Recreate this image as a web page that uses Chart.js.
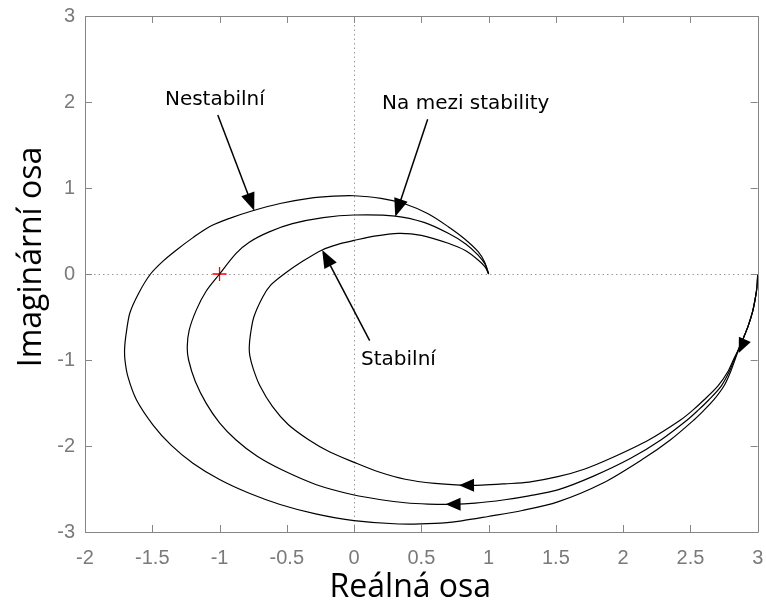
<!DOCTYPE html>
<html>
<head>
<meta charset="utf-8">
<script src="https://cdn.jsdelivr.net/npm/chart.js@4.4.1/dist/chart.umd.min.js"></script>
<style>
  html, body { margin: 0; padding: 0; background: #fff; }
  #wrap { width: 766px; height: 603px; }
</style>
</head>
<body>
<div id="wrap"><canvas id="nyquist"></canvas></div>
<script>
// Nyquistovy křivky, od w=0 (3,0) do w->inf (1,0)
const nestabilniX = [3, 2.995, 2.98, 2.96, 2.93, 2.895, 2.86, 2.835, 2.80, 2.75, 2.673, 2.60, 2.525, 2.35, 2.155, 1.85, 1.514, 1.25, 0.996, 0.80, 0.60, 0.33, 0, -0.286, -0.55, -0.779, -1.0, -1.198, -1.36, -1.494, -1.617, -1.68, -1.703, -1.705, -1.69, -1.666, -1.60, -1.513, -1.42, -1.32, -1.20, -1.075, -0.92, -0.754, -0.55, -0.335, -0.15, 0, 0.2, 0.38, 0.55, 0.70, 0.82, 0.922, 0.97, 1];
const nestabilniY = [0, -0.15, -0.3, -0.45, -0.6, -0.74, -0.87, -0.98, -1.13, -1.3, -1.465, -1.585, -1.698, -1.93, -2.143, -2.43, -2.65, -2.75, -2.82, -2.87, -2.90, -2.907, -2.868, -2.79, -2.68, -2.55, -2.39, -2.2, -1.99, -1.756, -1.465, -1.2, -1.0, -0.85, -0.65, -0.45, -0.22, 0, 0.15, 0.28, 0.42, 0.55, 0.65, 0.736, 0.82, 0.88, 0.905, 0.91, 0.88, 0.814, 0.70, 0.55, 0.41, 0.26, 0.14, 0];

const mezX = [3, 2.995, 2.98, 2.96, 2.93, 2.895, 2.86, 2.83, 2.79, 2.73, 2.636, 2.56, 2.476, 2.28, 2.056, 1.78, 1.514, 1.30, 1.12, 0.90, 0.725, 0.55, 0.38, 0.2, 0, -0.28, -0.533, -0.72, -0.877, -1.0, -1.099, -1.18, -1.23, -1.24, -1.225, -1.173, -1.10, -1.0, -0.877, -0.779, -0.631, -0.458, -0.23, 0, 0.306, 0.52, 0.70, 0.83, 0.922, 0.975, 1];
const mezY = [0, -0.15, -0.3, -0.45, -0.6, -0.74, -0.87, -0.98, -1.13, -1.3, -1.465, -1.58, -1.698, -1.93, -2.143, -2.35, -2.51, -2.58, -2.625, -2.665, -2.678, -2.675, -2.66, -2.625, -2.57, -2.45, -2.28, -2.12, -1.93, -1.73, -1.504, -1.25, -1.0, -0.845, -0.65, -0.42, -0.2, 0, 0.24, 0.37, 0.49, 0.585, 0.655, 0.686, 0.674, 0.60, 0.473, 0.35, 0.22, 0.11, 0];

const stabilniX = [3, 2.995, 2.98, 2.96, 2.93, 2.895, 2.86, 2.825, 2.78, 2.705, 2.60, 2.52, 2.426, 2.19, 1.908, 1.71, 1.514, 1.30, 1.12, 0.95, 0.82, 0.6, 0.38, 0.18, 0, -0.18, -0.335, -0.49, -0.606, -0.70, -0.75, -0.775, -0.779, -0.77, -0.745, -0.68, -0.62, -0.52, -0.38, -0.237, -0.12, 0, 0.15, 0.33, 0.50, 0.70, 0.83, 0.922, 0.975, 1];
const stabilniY = [0, -0.15, -0.3, -0.45, -0.6, -0.74, -0.87, -0.98, -1.13, -1.3, -1.465, -1.58, -1.698, -1.93, -2.143, -2.27, -2.357, -2.42, -2.44, -2.455, -2.457, -2.435, -2.387, -2.30, -2.19, -2.07, -1.93, -1.75, -1.543, -1.30, -1.1, -0.95, -0.85, -0.70, -0.50, -0.27, -0.13, 0, 0.15, 0.28, 0.345, 0.39, 0.44, 0.473, 0.45, 0.357, 0.27, 0.163, 0.08, 0];

// kritický bod
const kritickyBod = [{ x: -1, y: 0 }];

// popisky s šipkami: text, pozice textu, začátek a konec šipky
const popisky = ['Nestabilní', 'Na mezi stability', 'Stabilní'];
const popiskyPos = [[-1.035, 2.02], [0.83, 1.98], [0.33, -1.0]];
const sipkyOd = [[-1.013, 1.849], [0.547, 1.80], [0.116, -0.775]];
const sipkyDo = [[-0.742, 0.736], [0.306, 0.667], [-0.237, 0.28]];

// šipky směru na křivkách (špička, bod za ní)
const smerHrot = [[2.859, -0.92], [0.78, -2.457], [0.68, -2.678]];
const smerZa = [[2.95, -0.6], [0.95, -2.455], [0.85, -2.675]];

const xTicks = [-2, -1.5, -1, -0.5, 0, 0.5, 1, 1.5, 2, 2.5, 3];
const yTicks = [-3, -2, -1, 0, 1, 2, 3];

const xTitulek = 'Reálná osa';
const yTitulek = 'Imaginární osa';

function toPts(xs, ys) {
    return xs.map((x, i) => ({ x: x, y: ys[i] }));
}

function sipka(ctx, x1, y1, x2, y2, len, half) {
    const a = Math.atan2(y2 - y1, x2 - x1);
    ctx.beginPath();
    ctx.moveTo(x2, y2);
    ctx.lineTo(x2 - len * Math.cos(a) + half * Math.sin(a), y2 - len * Math.sin(a) - half * Math.cos(a));
    ctx.lineTo(x2 - len * Math.cos(a) - half * Math.sin(a), y2 - len * Math.sin(a) + half * Math.cos(a));
    ctx.closePath();
    ctx.fill();
}

const dekorace = {
    id: 'dekorace',
    beforeDatasetsDraw(chart) {
        const { ctx, chartArea: a, scales: { x, y } } = chart;
        ctx.save();
        ctx.strokeStyle = '#9a9a9a';
        ctx.lineWidth = 1;
        ctx.setLineDash([1.5, 3]);
        const x0 = Math.round(x.getPixelForValue(0)) + 0.5;
        const y0 = Math.round(y.getPixelForValue(0)) + 0.5;
        ctx.beginPath();
        ctx.moveTo(x0, a.top); ctx.lineTo(x0, a.bottom);
        ctx.moveTo(a.left, y0); ctx.lineTo(a.right, y0);
        ctx.stroke();
        ctx.restore();
    },
    afterDraw(chart) {
        const { ctx, chartArea: a, scales: { x, y } } = chart;
        ctx.save();
        // rámeček a ticky dovnitř
        ctx.strokeStyle = '#868686';
        ctx.lineWidth = 1;
        ctx.beginPath();
        ctx.rect(Math.round(a.left) + 0.5, Math.round(a.top) + 0.5, Math.round(a.right - a.left), Math.round(a.bottom - a.top));
        xTicks.forEach(v => {
            const p = Math.round(x.getPixelForValue(v)) + 0.5;
            ctx.moveTo(p, a.bottom); ctx.lineTo(p, a.bottom - 7);
            ctx.moveTo(p, a.top); ctx.lineTo(p, a.top + 7);
        });
        yTicks.forEach(v => {
            const p = Math.round(y.getPixelForValue(v)) + 0.5;
            ctx.moveTo(a.left, p); ctx.lineTo(a.left + 7, p);
            ctx.moveTo(a.right, p); ctx.lineTo(a.right - 7, p);
        });
        ctx.stroke();

        // šipky směru na křivkách
        ctx.fillStyle = '#000';
        smerHrot.forEach((h, i) => {
            const z = smerZa[i];
            sipka(ctx, x.getPixelForValue(z[0]), y.getPixelForValue(z[1]),
                x.getPixelForValue(h[0]), y.getPixelForValue(h[1]), 15, 6.5);
        });

        // popisky se šipkami
        ctx.strokeStyle = '#000';
        ctx.lineWidth = 1.5;
        ctx.font = '20px "DejaVu Sans"';
        ctx.textAlign = 'center';
        ctx.textBaseline = 'middle';
        popisky.forEach((t, i) => {
            const x1 = x.getPixelForValue(sipkyOd[i][0]), y1 = y.getPixelForValue(sipkyOd[i][1]);
            const x2 = x.getPixelForValue(sipkyDo[i][0]), y2 = y.getPixelForValue(sipkyDo[i][1]);
            const ang = Math.atan2(y2 - y1, x2 - x1);
            ctx.beginPath();
            ctx.moveTo(x1, y1);
            ctx.lineTo(x2 - 12 * Math.cos(ang), y2 - 12 * Math.sin(ang));
            ctx.stroke();
            sipka(ctx, x1, y1, x2, y2, 18, 7);
            ctx.fillText(t, x.getPixelForValue(popiskyPos[i][0]), y.getPixelForValue(popiskyPos[i][1]));
        });

        // názvy os (jako v MATLABu lehce mimo střed)
        ctx.font = '32px "Open Sans"';
        ctx.fillText(xTitulek, (a.left + a.right) / 2 - 11, a.bottom + 56);
        ctx.translate(32, (a.top + a.bottom) / 2 - 17);
        ctx.rotate(-Math.PI / 2);
        ctx.fillText(yTitulek, 0, 0);
        ctx.restore();
    }
};

const tickFont = { family: '"Liberation Sans Narrow", "Liberation Sans", sans-serif', size: 20 };

const ctx = document.getElementById('nyquist').getContext('2d');
new Chart(ctx, {
    type: 'scatter',
    data: {
        datasets: [
            { data: toPts(nestabilniX, nestabilniY), showLine: true, borderColor: '#000', borderWidth: 1.2, pointRadius: 0, tension: 0.3 },
            { data: toPts(mezX, mezY), showLine: true, borderColor: '#000', borderWidth: 1.2, pointRadius: 0, tension: 0.3 },
            { data: toPts(stabilniX, stabilniY), showLine: true, borderColor: '#000', borderWidth: 1.2, pointRadius: 0, tension: 0.3 },
            { data: kritickyBod, showLine: false, pointStyle: 'cross', pointRadius: 7, borderColor: '#ff0000', borderWidth: 1.3 }
        ]
    },
    options: {
        responsive: true,
        maintainAspectRatio: false,
        animation: false,
        layout: { padding: { top: 16, right: 5, left: 0, bottom: 0 } },
        plugins: { legend: { display: false }, tooltip: { enabled: false } },
        scales: {
            x: {
                type: 'linear', min: -2, max: 3,
                afterFit(s) { s.height = 71; s.paddingLeft = 0; s.paddingRight = 0; },
                afterBuildTicks(s) { s.ticks = xTicks.map(v => ({ value: v })); },
                grid: { display: false, drawTicks: false },
                border: { display: false },
                ticks: { color: '#7a7a7a', font: tickFont, padding: 14, maxRotation: 0, callback: v => String(v) }
            },
            y: {
                type: 'linear', min: -3, max: 3,
                afterFit(s) { s.width = 85; s.paddingTop = 0; s.paddingBottom = 0; },
                afterBuildTicks(s) { s.ticks = yTicks.map(v => ({ value: v })); },
                grid: { display: false, drawTicks: false },
                border: { display: false },
                ticks: { color: '#7a7a7a', font: tickFont, padding: 10, callback: v => String(v) }
            }
        }
    },
    plugins: [dekorace]
});
</script>
</body>
</html>
